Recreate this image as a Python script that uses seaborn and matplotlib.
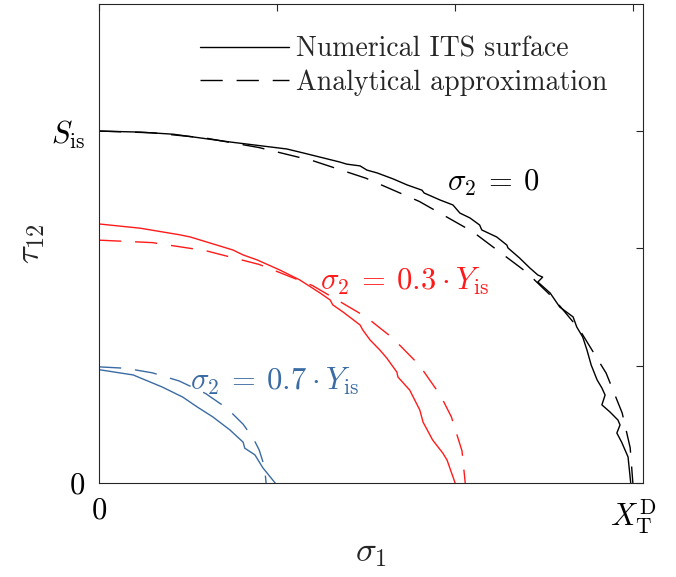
import numpy as np
import pandas as pd
import matplotlib
matplotlib.use("Agg")
import matplotlib.pyplot as plt
import seaborn as sns
from matplotlib.lines import Line2D

# ---- data (normalised: sigma1 / X_T^D, tau12 / S_is) ----
black_num_x = [0.000, 0.077, 0.139, 0.245, 0.320, 0.352, 0.382, 0.451, 0.464, 0.489, 0.502, 0.521,
               0.551, 0.577, 0.605, 0.609, 0.639, 0.663, 0.676, 0.695, 0.713, 0.717, 0.745, 0.764,
               0.766, 0.788, 0.807, 0.822, 0.831, 0.822, 0.845, 0.863, 0.888, 0.895, 0.906, 0.914,
               0.922, 0.933, 0.942, 0.948, 0.942, 0.957, 0.972, 0.976, 0.970, 0.979, 0.991, 0.996]
black_num_y = [1.000, 0.997, 0.991, 0.969, 0.955, 0.949, 0.938, 0.912, 0.906, 0.901, 0.889, 0.881,
               0.864, 0.847, 0.832, 0.824, 0.804, 0.790, 0.767, 0.753, 0.733, 0.719, 0.699, 0.676,
               0.668, 0.639, 0.611, 0.591, 0.585, 0.571, 0.540, 0.500, 0.472, 0.443, 0.415, 0.378,
               0.335, 0.293, 0.270, 0.250, 0.222, 0.202, 0.179, 0.165, 0.142, 0.116, 0.074, 0.000]
black_ana_x = [0.000, 0.100, 0.200, 0.300, 0.400, 0.500, 0.600, 0.700, 0.800, 0.850, 0.900,
               0.950, 0.980, 0.995, 1.000]
black_ana_y = [1.000, 0.995, 0.980, 0.953, 0.916, 0.866, 0.800, 0.714, 0.600, 0.527, 0.436,
               0.312, 0.199, 0.100, 0.000]

red_num_x = [0.000, 0.077, 0.152, 0.171, 0.251, 0.270, 0.296, 0.339, 0.376, 0.414, 0.433, 0.438,
             0.457, 0.489, 0.494, 0.508, 0.526, 0.539, 0.558, 0.560, 0.582, 0.601, 0.607, 0.625,
             0.644, 0.652, 0.665, 0.667]
red_num_y = [0.736, 0.724, 0.705, 0.699, 0.662, 0.648, 0.634, 0.605, 0.577, 0.540, 0.520, 0.506,
             0.486, 0.449, 0.435, 0.406, 0.378, 0.355, 0.315, 0.301, 0.264, 0.207, 0.173, 0.122,
             0.085, 0.065, 0.009, 0.000]
red_ana_x = [0.000, 0.100, 0.200, 0.300, 0.400, 0.500, 0.550, 0.600, 0.640, 0.660, 0.680, 0.686]
red_ana_y = [0.690, 0.683, 0.660, 0.621, 0.561, 0.472, 0.412, 0.335, 0.248, 0.188, 0.091, 0.000]

blue_num_x = [0.000, 0.064, 0.118, 0.157, 0.184, 0.213, 0.245, 0.270, 0.273, 0.292, 0.307, 0.330]
blue_num_y = [0.322, 0.307, 0.273, 0.244, 0.216, 0.188, 0.151, 0.116, 0.099, 0.080, 0.043, 0.000]
blue_ana_x = [0.000, 0.050, 0.100, 0.150, 0.200, 0.240, 0.270, 0.290, 0.300, 0.310, 0.313]
blue_ana_y = [0.330, 0.326, 0.313, 0.290, 0.254, 0.212, 0.167, 0.124, 0.094, 0.046, 0.000]

x_ticks = [0, 1/3, 2/3, 1]
x_ticklabels = [r'$0$', '', '', r'$X_{\mathrm{T}}^{\mathrm{D}}$']
y_ticks = [0, 1/3, 2/3, 1]
y_ticklabels = [r'$0$', '', '', r'$S_{\mathrm{is}}$']
legend_labels = ['Numerical ITS surface', 'Analytical approximation']
annotations = [r'$\sigma_2 \:=\: 0$', r'$\sigma_2 \:=\: 0.3 \:\cdot\: Y_{\mathrm{is}}$',
               r'$\sigma_2 \:=\: 0.7 \:\cdot\: Y_{\mathrm{is}}$']

BLACK = '#000000'
RED = '#ff1a1a'
BLUE = '#3a6ba3'

sns.set_theme(style='white')
plt.rcParams['mathtext.fontset'] = 'cm'
plt.rcParams['font.family'] = ['cmr10', 'DejaVu Serif']
plt.rcParams['axes.unicode_minus'] = False
plt.rcParams['axes.formatter.use_mathtext'] = True

fig = plt.figure(figsize=(6.76, 5.77), dpi=100)
ax = fig.add_axes([99/676, 1 - 483/577, (643 - 99)/676, (483 - 4)/577])

dash = (0, (16, 10))
series = [
    (black_num_x, black_num_y, BLACK, '-'),
    (black_ana_x, black_ana_y, BLACK, dash),
    (red_num_x, red_num_y, RED, '-'),
    (red_ana_x, red_ana_y, RED, dash),
    (blue_num_x, blue_num_y, BLUE, '-'),
    (blue_ana_x, blue_ana_y, BLUE, dash),
]
for xs, ys, c, ls in series:
    df = pd.DataFrame({'x': xs, 'y': ys})
    sns.lineplot(data=df, x='x', y='y', sort=False, estimator=None, color=c,
                 linewidth=1.0, linestyle=ls, ax=ax)

ax.set_xlim(0, 1.019)
ax.set_ylim(0, 1.361)
ax.set_xticks(x_ticks)
ax.set_xticklabels(x_ticklabels)
ax.set_yticks(y_ticks)
ax.set_yticklabels(y_ticklabels)
ax.tick_params(direction='in', length=5, width=0.8, colors='#262626',
               top=True, right=True, labelsize=22, pad=10)
for lab in ax.get_xticklabels() + ax.get_yticklabels():
    lab.set_color('black')
for s in ax.spines.values():
    s.set_color('#262626')
    s.set_linewidth(0.8)
    s.set_visible(True)

ax.set_xlabel(r'$\sigma_1$', fontsize=25, labelpad=1)
ax.set_ylabel(r'$\tau_{12}$', fontsize=25, labelpad=3)

ax.text(0.652, 0.852, annotations[0], color=BLACK, fontsize=22, ha='left', va='center')
ax.text(0.414, 0.574, annotations[1], color=RED, fontsize=22, ha='left', va='center')
ax.text(0.170, 0.290, annotations[2], color=BLUE, fontsize=22, ha='left', va='center')

handles = [Line2D([], [], color=BLACK, lw=1.0, ls='-'),
           Line2D([], [], color=BLACK, lw=1.0, ls=dash)]
ax.legend(handles, legend_labels, loc='upper left', bbox_to_anchor=(200/676, 1 - 36/577),
          bbox_transform=fig.transFigure, frameon=False, fontsize=20, handlelength=3.2,
          handletextpad=0.25, borderpad=0, borderaxespad=0, labelspacing=0.25)

fig.savefig('out.png', dpi=100)
